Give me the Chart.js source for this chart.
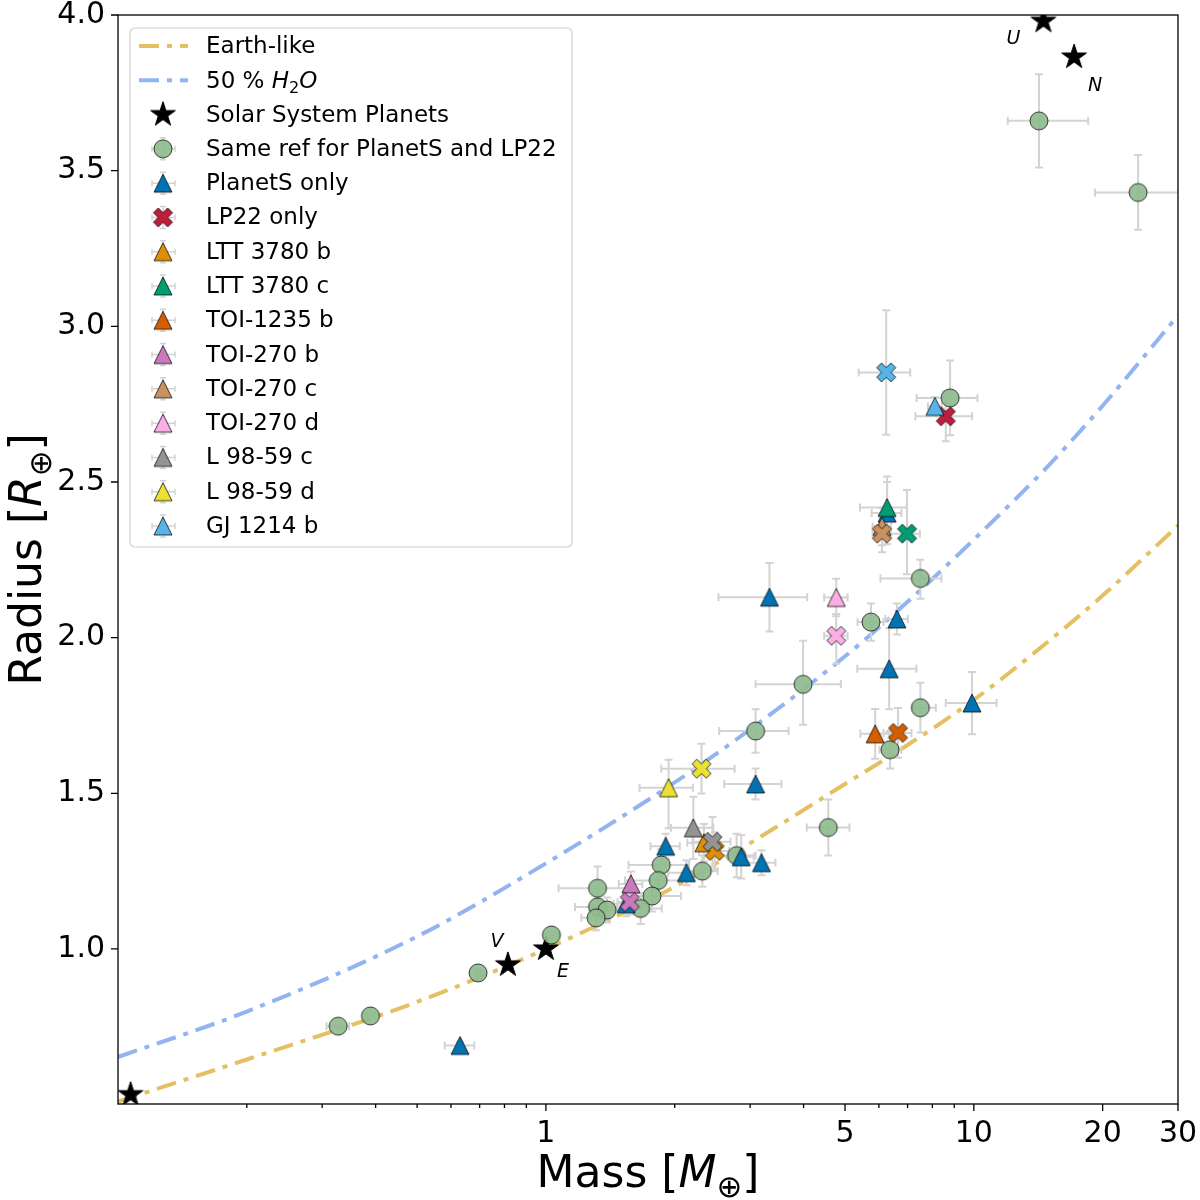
<!DOCTYPE html>
<html>
<head>
<meta charset="utf-8">
<title>Mass-radius diagram</title>
<script src="https://cdn.jsdelivr.net/npm/chart.js@4.4.1/dist/chart.umd.min.js"></script>
<style>
  html, body { margin: 0; padding: 0; background: #fff; }
  canvas { display: block; }
</style>
</head>
<body>
<canvas id="myChart" width="1200" height="1200"></canvas>
<script>
// composition curves
let curveMass = [0.1, 0.2, 0.5, 1, 2, 3, 5, 7, 10, 15, 20, 30];
let earthLikeRadius = [0.51, 0.645, 0.83, 1.0, 1.2, 1.34, 1.53, 1.655, 1.8, 1.99, 2.135, 2.36];
let water50Radius = [0.653, 0.799, 1.04, 1.275, 1.535, 1.705, 1.94, 2.115, 2.315, 2.555, 2.745, 3.035];

// solar system planets (Mars, Venus, Earth, Uranus, Neptune)
let solarNames = ["", "V", "E", "U", "N"];
let solarMass = [0.107, 0.815, 1.0, 14.54, 17.15];
let solarRadius = [0.532, 0.949, 1.0, 3.98, 3.865];

// same reference for PlanetS and LP22
let sameRefMass = [14.2, 24.2, 8.8, 7.5, 5.75, 3.99, 3.09, 7.5, 6.37, 4.57, 2.79, 2.32, 1.86, 1.83, 1.77, 1.665, 1.32, 1.32, 1.39, 1.31, 1.03, 0.694, 0.389, 0.327];
let sameRefRadius = [3.66, 3.43, 2.77, 2.19, 2.05, 1.85, 1.7, 1.775, 1.64, 1.39, 1.3, 1.25, 1.27, 1.22, 1.17, 1.13, 1.195, 1.135, 1.125, 1.1, 1.045, 0.923, 0.785, 0.752];
let sameRefMassErr = [[2.2, 4.3], [5.0, 6.0], [1.45, 1.4], [1.45, 0.9], [0.4, 0.4], [0.9, 0.9], [0.55, 0.6], [0.3, 0.65], [0.35, 0.4], [0.5, 0.55], [0.25, 0.3], [0.2, 0.2], [0.3, 0.3], [0.3, 0.3], [0.25, 0.3], [0.2, 0.2], [0.25, 0.25], [0.15, 0.15], [0.1, 0.1], [0.1, 0.1], [0.03, 0.03], [0.01, 0.01], [0.01, 0.01], [0.02, 0.02]];
let sameRefRadiusErr = [[0.15, 0.15], [0.12, 0.12], [0.12, 0.12], [0.065, 0.06], [0.06, 0.06], [0.13, 0.14], [0.07, 0.07], [0.08, 0.08], [0.06, 0.06], [0.09, 0.09], [0.07, 0.07], [0.05, 0.05], [0.05, 0.05], [0.05, 0.05], [0.05, 0.05], [0.05, 0.05], [0.07, 0.07], [0.04, 0.04], [0.04, 0.04], [0.04, 0.04], [0.01, 0.01], [0.005, 0.005], [0.005, 0.005], [0.005, 0.005]];

// PlanetS only
let planetsOnlyMass = [0.63, 3.33, 6.61, 6.34, 9.9, 3.09, 1.905, 2.13, 2.86, 3.19, 1.54, 6.27];
let planetsOnlyRadius = [0.69, 2.13, 2.06, 1.9, 1.79, 1.53, 1.33, 1.245, 1.296, 1.277, 1.145, 2.4];
let planetsOnlyMassErr = [[0.05, 0.05], [0.8, 0.75], [0.4, 0.4], [1.0, 1.0], [1.3, 1.4], [0.48, 0.46], [0.15, 0.15], [0.2, 0.2], [0.2, 0.2], [0.25, 0.25], [0.1, 0.1], [0.5, 0.5]];
let planetsOnlyRadiusErr = [[0.01, 0.01], [0.11, 0.11], [0.05, 0.05], [0.13, 0.13], [0.1, 0.1], [0.05, 0.05], [0.04, 0.04], [0.04, 0.04], [0.07, 0.07], [0.04, 0.04], [0.04, 0.04], [0.1, 0.1]];

// LP22 only
let lp22OnlyMass = [8.6];
let lp22OnlyRadius = [2.711];
let lp22OnlyMassErr = [[1.3, 1.3]];
let lp22OnlyRadiusErr = [[0.08, 0.08]];

// planets present in both catalogues with different values
let planetNames = ["LTT 3780 b", "LTT 3780 c", "TOI-1235 b", "TOI-270 b", "TOI-270 c", "TOI-270 d", "L 98-59 c", "L 98-59 d", "GJ 1214 b"];
let planetColors = ["#DE8F05", "#029E73", "#D55E00", "#CC78BC", "#CA9161", "#FBAFE4", "#949494", "#ECE133", "#56B4E9"];
let planetSMass = [2.34, 6.27, 5.88, 1.58, 6.1, 4.77, 2.21, 1.935, 8.11];
let planetSRadius = [1.341, 2.418, 1.691, 1.209, 2.357, 2.129, 1.389, 1.518, 2.743];
let planetSMassErr = [[0.2, 0.2], [0.85, 0.7], [0.45, 0.45], [0.1, 0.1], [0.3, 0.3], [0.3, 0.3], [0.25, 0.25], [0.28, 0.27], [0.3, 0.3]];
let planetSRadiusErr = [[0.06, 0.06], [0.1, 0.1], [0.08, 0.08], [0.04, 0.04], [0.06, 0.06], [0.06, 0.06], [0.1, 0.1], [0.13, 0.09], [0.03, 0.03]];
let lp22Mass = [2.48, 6.98, 6.65, 1.57, 6.1, 4.77, 2.45, 2.31, 6.24];
let lp22Radius = [1.315, 2.334, 1.694, 1.151, 2.334, 2.006, 1.344, 1.579, 2.852];
let lp22MassErr = [[0.2, 0.2], [0.6, 0.5], [0.5, 0.5], [0.1, 0.1], [0.3, 0.3], [0.3, 0.3], [0.25, 0.25], [0.45, 0.45], [0.86, 0.86]];
let lp22RadiusErr = [[0.06, 0.06], [0.13, 0.14], [0.08, 0.08], [0.04, 0.04], [0.06, 0.06], [0.09, 0.07], [0.08, 0.08], [0.08, 0.08], [0.2, 0.2]];

// axis ticks
let xTickLabels = [1, 5, 10, 20, 30];
let xMinorTicks = [0.2, 0.3, 0.4, 0.5, 0.6, 0.7, 0.8, 0.9, 2, 3, 4, 6, 7, 8, 9];
let yTickLabels = [1.0, 1.5, 2.0, 2.5, 3.0, 3.5, 4.0];

const FONT = "'DejaVu Sans', 'Liberation Sans', sans-serif";

// matplotlib-like filled markers drawn once into small canvases
function makeMarker(shape, fill, size, edge) {
  let c = document.createElement("canvas");
  c.width = c.height = size + 4;
  let g = c.getContext("2d");
  let m = c.width / 2, h = size / 2;
  g.beginPath();
  if (shape === "circle") {
    g.arc(m, m, h, 0, Math.PI * 2);
  } else if (shape === "triangle") {
    g.moveTo(m, m - h);
    g.lineTo(m + h, m + h);
    g.lineTo(m - h, m + h);
    g.closePath();
  } else if (shape === "x") {
    let u = size / 4;
    let pts = [[-1, -2], [0, -1], [1, -2], [2, -1], [1, 0], [2, 1], [1, 2], [0, 1], [-1, 2], [-2, 1], [-1, 0], [-2, -1]];
    pts.forEach((p, i) => (i ? g.lineTo : g.moveTo).call(g, m + p[0] * u, m + p[1] * u));
    g.closePath();
  } else if (shape === "star") {
    for (let i = 0; i < 10; i++) {
      let r = i % 2 ? h * 0.382 : h;
      let a = -Math.PI / 2 + i * Math.PI / 5;
      (i ? g.lineTo : g.moveTo).call(g, m + r * Math.cos(a), m + r * Math.sin(a));
    }
    g.closePath();
  }
  g.fillStyle = fill;
  g.fill();
  g.lineWidth = 1;
  g.strokeStyle = edge || "rgba(0,0,0,0.75)";
  g.stroke();
  return c;
}

function points(mass, radius, massErr, radiusErr) {
  return mass.map((m, i) => ({
    x: m,
    y: radius[i],
    xErr: massErr ? massErr[i] : null,
    yErr: radiusErr ? radiusErr[i] : null,
  }));
}

let starImg = makeMarker("star", "#000", 26, "#000");
let circleImg = makeMarker("circle", "rgba(143,188,143,0.92)", 18);
let blueTri = makeMarker("triangle", "#0173B2", 18);
let redCross = makeMarker("x", "#BE1E3C", 19);

let datasets = [
  {
    label: "Earth-like",
    data: curveMass.map((m, i) => ({ x: m, y: earthLikeRadius[i] })),
    showLine: true,
    borderColor: "rgba(218,165,32,0.7)",
    borderWidth: 4,
    borderDash: [20, 8, 5, 8],
    pointRadius: 0,
    cubicInterpolationMode: "monotone",
  },
  {
    label: "50 % H2O",
    legendParts: [["50 % ", ""], ["H", "i"], ["2", "sub"], ["O", "i"]],
    data: curveMass.map((m, i) => ({ x: m, y: water50Radius[i] })),
    showLine: true,
    borderColor: "rgba(100,149,237,0.7)",
    borderWidth: 4,
    borderDash: [20, 8, 5, 8],
    pointRadius: 0,
    cubicInterpolationMode: "monotone",
  },
  {
    label: "Solar System Planets",
    data: points(solarMass, solarRadius),
    pointStyle: starImg,
    legendIcon: starImg,
    noErr: true,
    pointRadius: 12,
  },
  {
    label: "Same ref for PlanetS and LP22",
    data: points(sameRefMass, sameRefRadius, sameRefMassErr, sameRefRadiusErr),
    pointStyle: circleImg,
    legendIcon: circleImg,
    pointRadius: 10,
  },
  {
    label: "PlanetS only",
    data: points(planetsOnlyMass, planetsOnlyRadius, planetsOnlyMassErr, planetsOnlyRadiusErr),
    pointStyle: blueTri,
    legendIcon: blueTri,
    pointRadius: 10,
  },
  {
    label: "LP22 only",
    data: points(lp22OnlyMass, lp22OnlyRadius, lp22OnlyMassErr, lp22OnlyRadiusErr),
    pointStyle: redCross,
    legendIcon: redCross,
    pointRadius: 10,
  },
];

planetNames.forEach((name, i) => {
  let tri = makeMarker("triangle", planetColors[i], 18);
  let crs = makeMarker("x", planetColors[i], 19);
  datasets.push({
    label: name,
    data: [
      { x: planetSMass[i], y: planetSRadius[i], xErr: planetSMassErr[i], yErr: planetSRadiusErr[i] },
      { x: lp22Mass[i], y: lp22Radius[i], xErr: lp22MassErr[i], yErr: lp22RadiusErr[i] },
    ],
    pointStyle: [tri, crs],
    legendIcon: tri,
    pointRadius: 10,
  });
});

// earlier datasets are drawn first, like matplotlib
datasets.forEach((ds, i) => {
  ds.order = 100 - i;
  ds.clip = 0;
});

// text with italic / subscript pieces, e.g. M_earth
function mixedText(g, parts, x, y, size, align) {
  let pieces = parts.map(([t, s]) => {
    let sub = s.includes("sub");
    let fs = sub ? size * 0.7 : size;
    let font = (s === "i" ? "italic " : "") + fs + "px " + FONT;
    g.font = font;
    return { t, font, w: g.measureText(t).width, dy: sub ? size * 0.22 : 0 };
  });
  let total = pieces.reduce((a, p) => a + p.w, 0);
  let cx = align === "center" ? x - total / 2 : x;
  g.textAlign = "left";
  g.textBaseline = "alphabetic";
  pieces.forEach((p) => {
    g.font = p.font;
    g.fillText(p.t, cx, y + p.dy);
    cx += p.w;
  });
}

function errCross(g, cx, cy, x0, x1, y0, y1, cap) {
  g.beginPath();
  g.moveTo(x0, cy); g.lineTo(x1, cy);
  g.moveTo(cx, y0); g.lineTo(cx, y1);
  g.moveTo(x0, cy - cap); g.lineTo(x0, cy + cap);
  g.moveTo(x1, cy - cap); g.lineTo(x1, cy + cap);
  g.moveTo(cx - cap, y0); g.lineTo(cx + cap, y0);
  g.moveTo(cx - cap, y1); g.lineTo(cx + cap, y1);
  g.stroke();
}

let errorBars = {
  id: "errorBars",
  beforeDatasetDraw(chart, args) {
    // draw every bar once, just before the first marker dataset
    if (chart.data.datasets[args.index].label !== "Solar System Planets") return;
    let g = chart.ctx, xs = chart.scales.x, ys = chart.scales.y, a = chart.chartArea;
    g.save();
    g.beginPath();
    g.rect(a.left, a.top, a.right - a.left, a.bottom - a.top);
    g.clip();
    g.strokeStyle = "#d3d3d3";
    g.lineWidth = 2;
    chart.data.datasets.forEach((ds) => {
      ds.data.forEach((p) => {
        if (!p.xErr) return;
        errCross(g,
          xs.getPixelForValue(p.x), ys.getPixelForValue(p.y),
          xs.getPixelForValue(Math.max(p.x - p.xErr[0], 0.01)), xs.getPixelForValue(p.x + p.xErr[1]),
          ys.getPixelForValue(p.y - p.yErr[0]), ys.getPixelForValue(p.y + p.yErr[1]), 4);
      });
    });
    g.restore();
  },
};

let decorations = {
  id: "decorations",
  afterDraw(chart) {
    let g = chart.ctx, xs = chart.scales.x, ys = chart.scales.y, a = chart.chartArea;
    g.save();

    // frame and tick marks
    g.strokeStyle = "#000";
    g.lineWidth = 1.3;
    g.strokeRect(a.left, a.top, a.right - a.left, a.bottom - a.top);
    g.beginPath();
    xTickLabels.forEach((v) => {
      let px = xs.getPixelForValue(v);
      g.moveTo(px, a.bottom); g.lineTo(px, a.bottom + 7);
    });
    xMinorTicks.forEach((v) => {
      let px = xs.getPixelForValue(v);
      g.moveTo(px, a.bottom); g.lineTo(px, a.bottom + 4);
    });
    yTickLabels.forEach((v) => {
      let py = ys.getPixelForValue(v);
      g.moveTo(a.left - 7, py); g.lineTo(a.left, py);
    });
    g.stroke();

    // solar system letters
    let offsets = { V: [-11, -23], E: [17, 23], U: [-30, 18], N: [21, 29] };
    g.fillStyle = "#000";
    g.font = "italic 19px " + FONT;
    g.textAlign = "center";
    g.textBaseline = "middle";
    solarNames.forEach((n, i) => {
      if (!n) return;
      g.fillText(n, xs.getPixelForValue(solarMass[i]) + offsets[n][0], ys.getPixelForValue(solarRadius[i]) + offsets[n][1]);
    });

    // axis titles
    mixedText(g, [["Mass [", ""], ["M", "i"], ["\u2295", "sub"], ["]", ""]], (a.left + a.right) / 2, 1187, 44, "center");
    g.save();
    g.translate(0, (a.top + a.bottom) / 2);
    g.rotate(-Math.PI / 2);
    mixedText(g, [["Radius [", ""], ["R", "i"], ["\u2295", "sub"], ["]", ""]], 0, 41, 44, "center");
    g.restore();

    // legend
    let lx = 130, ly = 28, lw = 442, lh = 519, row = 480 / 14;
    g.beginPath();
    g.roundRect(lx, ly, lw, lh, 5);
    g.fillStyle = "rgba(255,255,255,0.85)";
    g.fill();
    g.strokeStyle = "#d0d0d0";
    g.lineWidth = 1.2;
    g.stroke();
    chart.data.datasets.forEach((ds, i) => {
      let y = 46 + i * row;
      if (ds.showLine) {
        g.save();
        g.strokeStyle = ds.borderColor;
        g.lineWidth = ds.borderWidth;
        g.setLineDash(ds.borderDash);
        g.beginPath();
        g.moveTo(139, y); g.lineTo(188, y);
        g.stroke();
        g.restore();
      } else {
        if (!ds.noErr) {
          g.strokeStyle = "#d3d3d3";
          g.lineWidth = 1.5;
          errCross(g, 163, y, 152, 175, y - 11, y + 11, 3);
        }
        let img = ds.legendIcon;
        g.drawImage(img, 163 - img.width / 2, y - img.height / 2);
      }
      g.fillStyle = "#000";
      if (ds.legendParts) {
        mixedText(g, ds.legendParts, 206, y + 8, 23, "left");
      } else {
        g.font = "23px " + FONT;
        g.textAlign = "left";
        g.textBaseline = "middle";
        g.fillText(ds.label, 206, y + 1);
      }
    });
    g.restore();
  },
};

// the plot box is pinned: no extra room for overflowing tick labels
function noPad(s) {
  s.paddingLeft = s.paddingRight = s.paddingTop = s.paddingBottom = 0;
}

let ctx = document.getElementById("myChart").getContext("2d");
let chart = new Chart(ctx, {
  type: "scatter",
  data: { datasets: datasets },
  plugins: [errorBars, decorations],
  options: {
    responsive: false,
    animation: false,
    events: [],
    devicePixelRatio: 1,
    layout: { padding: { top: 15, right: 22, left: 0, bottom: 0 } },
    plugins: { legend: { display: false }, tooltip: { enabled: false } },
    scales: {
      x: {
        type: "logarithmic",
        min: 0.1,
        max: 30,
        grid: { display: false, drawTicks: false },
        border: { display: false },
        afterFit: (s) => { s.height = 96; noPad(s); },
        afterBuildTicks: (s) => { s.ticks = xTickLabels.map((v) => ({ value: v })); },
        ticks: {
          autoSkip: false,
          maxRotation: 0,
          padding: 12,
          color: "#000",
          font: { family: FONT, size: 30 },
          callback: (v) => String(v),
        },
      },
      y: {
        type: "linear",
        min: 0.502,
        max: 4.0,
        grid: { display: false, drawTicks: false },
        border: { display: false },
        afterFit: (s) => { s.width = 118; noPad(s); },
        afterBuildTicks: (s) => { s.ticks = yTickLabels.map((v) => ({ value: v })); },
        ticks: {
          padding: 13,
          color: "#000",
          font: { family: FONT, size: 30 },
          callback: (v) => Number(v).toFixed(1),
        },
      },
    },
  },
});
</script>
</body>
</html>
